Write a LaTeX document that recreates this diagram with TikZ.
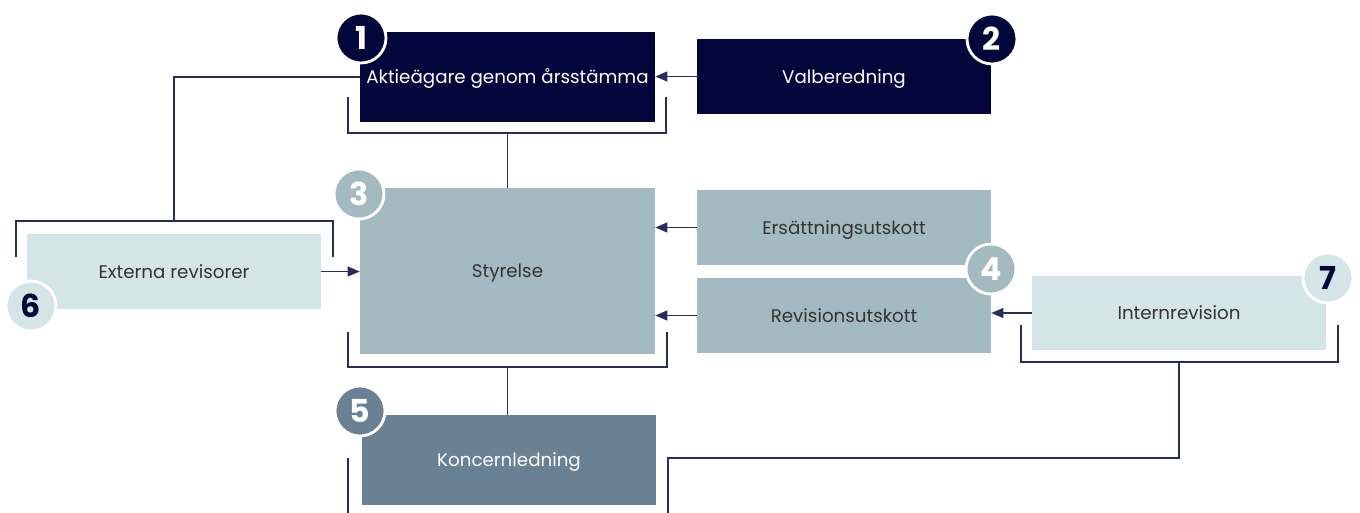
\documentclass[tikz,border=0pt]{standalone}
\usepackage{fontspec}
\setmainfont{Poppins}
\usepackage{tikz}
\usetikzlibrary{arrows.meta}
\definecolor{marin}{HTML}{03063B}
\definecolor{styrgra}{HTML}{A4BAC1}
\definecolor{koncgra}{HTML}{6A8093}
\definecolor{ljus}{HTML}{D3E5E7}
\definecolor{linje}{HTML}{2A2C5C}
\definecolor{textgra}{HTML}{333333}

\begin{document}
\begin{tikzpicture}[x=0.02cm, y=-0.02cm,
    ruta/.style={minimum width=5.88cm, minimum height=1.5cm, inner sep=0pt, text height=1.45ex, text depth=0pt, font=\fontsize{10.4}{12}\selectfont},
    mork/.style={ruta, fill=marin, text=white},
    mellan/.style={ruta, fill=styrgra, text=textgra},
    ljusruta/.style={ruta, fill=ljus, text=textgra},
    nummer/.style={circle, minimum size=1.0cm, inner sep=0pt, draw=white, line width=1.6pt, font=\fontsize{18}{18}\selectfont\bfseries},
    linjer/.style={draw=linje, line width=0.7pt},
    pil/.style={linjer, -{Triangle[length=0.24cm, width=0.2cm]}}]

    \useasboundingbox (0,0) rectangle (1360,513);

    % Rutor
    \node[mork, minimum width=5.9cm, minimum height=1.8cm] (akt) at (507.5,77) {Aktieägare genom årsstämma};
    \node[mork] (val) at (844,76.5) {Valberedning};
    \node[mellan, minimum width=5.9cm, minimum height=3.32cm] (styr) at (507.5,271) {Styrelse};
    \node[mellan] (ers) at (844,227.5) {Ersättningsutskott};
    \node[mellan] (rev) at (844,315.5) {Revisionsutskott};
    \node[ljusruta] (ext) at (174,271.5) {Externa revisorer};
    \node[ljusruta, minimum height=1.48cm] (int) at (1179,313) {Internrevision};
    \node[ruta, fill=koncgra, text=white, minimum height=1.8cm] (kon) at (509,460) {Koncernledning};

    % Hakparenteser
    \coordinate (aktB) at (507.5,133);
    \coordinate (extB) at (174,221);
    \coordinate (styrB) at (507.5,367);
    \coordinate (intB) at (1179,362);
    \coordinate (konL) at (348,458);
    \coordinate (konR) at (668,458);

    \draw[linjer] (348,97) -- (348,133) -- (666,133) -- (666,97);
    \draw[linjer] (16,257) -- (16,221) -- (333,221) -- (333,257);
    \draw[linjer] (348,332) -- (348,367) -- (667,367) -- (667,332);
    \draw[linjer] (1021,325) -- (1021,362) -- (1338,362) -- (1338,325);
    \draw[linjer] (konL) -- (348,513);

    % Linjer mellan rutorna
    \draw[linjer] (aktB) -- (akt.south |- styr.north);
    \draw[linjer] (akt.west) -| (extB);
    \draw[linjer] (styrB) -- (styrB |- kon.north);
    \draw[linjer] (intB) |- (konR) -- (668,513);

    % Pilar
    \draw[pil] (val.west) -- (akt.east |- val.west);
    \draw[pil] (ext.east) -- (styr.west |- ext.east);
    \draw[pil] (ers.west) -- (styr.east |- ers.west);
    \draw[pil] (rev.west) -- (styr.east |- rev.west);
    \draw[pil] (int.west) -- (rev.east |- int.west);

    % Nummer
    \node[nummer, fill=marin, text=white] (n1) at (361,38) {1};
    \node[nummer, fill=marin, text=white] (n2) at (992,39) {2};
    \node[nummer, fill=styrgra, text=white] (n3) at (359,194) {3};
    \node[nummer, fill=styrgra, text=white] (n4) at (991,269) {4};
    \node[nummer, fill=koncgra, text=white] (n5) at (360,411) {5};
    \node[nummer, fill=ljus, text=marin] (n6) at (31,306) {6};
    \node[nummer, fill=ljus, text=marin] (n7) at (1328,278) {7};
\end{tikzpicture}
\end{document}
